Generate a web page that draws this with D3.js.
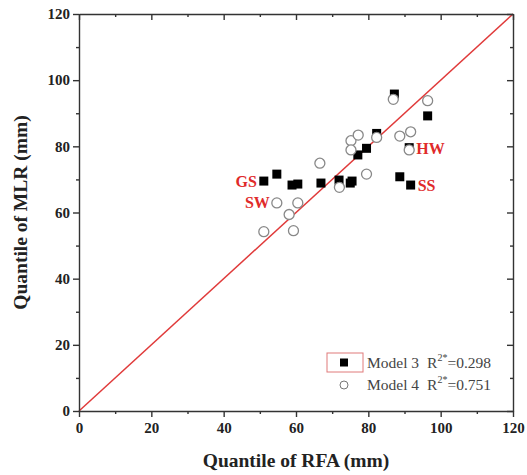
<!DOCTYPE html>
<html><head><meta charset="utf-8">
<script src="https://cdn.jsdelivr.net/npm/d3@7"></script>
<style>body{margin:0;background:#fff}</style>
</head><body><svg id="c" width="527" height="475"></svg>
<script>
const model3X = [51.1,54.7,58.9,60.5,66.9,71.9,75.0,75.5,77.1,79.5,82.3,87.2,96.4,88.7,91.7,91.3];
const model3Y = [69.5,71.6,68.3,68.6,68.9,69.8,68.9,69.5,77.4,79.4,83.9,95.8,89.2,70.8,68.3,79.6];
const model4X = [54.7,60.5,58.1,51.1,59.3,66.6,72.0,79.5,75.2,77.2,75.2,82.3,86.9,96.4,88.7,91.7,91.3];
const model4Y = [62.9,62.9,59.4,54.2,54.5,74.9,67.6,71.6,81.7,83.4,78.9,82.7,94.2,93.8,83.1,84.4,78.9];
const ticks = [0,20,40,60,80,100,120];
const minorTicks = [10,30,50,70,90,110];
const siteLabels = [
  {text:"GS", x:51.1, y:69.5, side:"left"},
  {text:"SW", x:54.7, y:62.9, side:"left"},
  {text:"HW", x:91.3, y:79.3, side:"right"},
  {text:"SS", x:91.7, y:68.3, side:"right"}
];
const legendItems = [
  {name:"Model 3", r2:"0.298", type:"square"},
  {name:"Model 4", r2:"0.751", type:"circle"}
];

const svg = d3.select("#c");
const x = d3.scaleLinear().domain([0,120]).range([79,513]);
const y = d3.scaleLinear().domain([0,120]).range([411,14]);
const axisColor = "#333";
const serif = "'Liberation Serif','Times New Roman',serif";

// 1:1 line
svg.append("line").attr("x1",x(0)).attr("y1",y(0)).attr("x2",x(120)).attr("y2",y(120))
  .attr("stroke","#e03a3a").attr("stroke-width",1.5);

function styleAxis(g){
  g.selectAll("path,line").attr("stroke",axisColor).attr("stroke-width",1.4);
  g.selectAll("text").attr("font-family",serif).attr("font-weight","bold").attr("font-size","15px").attr("fill","#222");
}
// bottom
const gb = svg.append("g").attr("transform",`translate(0,${y(0)})`)
  .call(d3.axisBottom(x).tickValues(ticks).tickSize(6).tickSizeOuter(0).tickPadding(5).tickFormat(d3.format("d")));
styleAxis(gb);
const gbm = svg.append("g").attr("transform",`translate(0,${y(0)})`)
  .call(d3.axisBottom(x).tickValues(minorTicks).tickSize(3).tickSizeOuter(0).tickFormat(""));
styleAxis(gbm); gbm.select("path").remove();
// left
const gl = svg.append("g").attr("transform",`translate(${x(0)},0)`)
  .call(d3.axisLeft(y).tickValues(ticks).tickSize(6).tickSizeOuter(0).tickPadding(3).tickFormat(d3.format("d")));
styleAxis(gl);
const glm = svg.append("g").attr("transform",`translate(${x(0)},0)`)
  .call(d3.axisLeft(y).tickValues(minorTicks).tickSize(3).tickSizeOuter(0).tickFormat(""));
styleAxis(glm); glm.select("path").remove();
// top (inward)
const gt = svg.append("g").attr("transform",`translate(0,${y(120)})`)
  .call(d3.axisTop(x).tickValues(ticks).tickSize(-6).tickSizeOuter(0).tickFormat(""));
styleAxis(gt);
const gtm = svg.append("g").attr("transform",`translate(0,${y(120)})`)
  .call(d3.axisTop(x).tickValues(minorTicks).tickSize(-3).tickSizeOuter(0).tickFormat(""));
styleAxis(gtm); gtm.select("path").remove();
// right (inward)
const gr = svg.append("g").attr("transform",`translate(${x(120)},0)`)
  .call(d3.axisRight(y).tickValues(ticks).tickSize(-6).tickSizeOuter(0).tickFormat(""));
styleAxis(gr);
const grm = svg.append("g").attr("transform",`translate(${x(120)},0)`)
  .call(d3.axisRight(y).tickValues(minorTicks).tickSize(-3).tickSizeOuter(0).tickFormat(""));
styleAxis(grm); grm.select("path").remove();

// axis titles
svg.append("text").attr("x",(x(0)+x(120))/2).attr("y",467).attr("text-anchor","middle")
  .attr("font-family",serif).attr("font-weight","bold").attr("font-size","19.5px").attr("fill","#222")
  .text("Quantile of RFA (mm)");
svg.append("text").attr("transform",`translate(27,${(y(0)+y(120))/2}) rotate(-90)`).attr("text-anchor","middle")
  .attr("font-family",serif).attr("font-weight","bold").attr("font-size","19.5px").attr("fill","#222")
  .text("Quantile of MLR (mm)");

// model 3 squares
const m3 = model3X.map((v,i)=>({x:v,y:model3Y[i]}));
const s = 9;
svg.append("g").selectAll("rect").data(m3).join("rect")
  .attr("x",d=>x(d.x)-s/2).attr("y",d=>y(d.y)-s/2).attr("width",s).attr("height",s)
  .attr("fill","#000");
// model 4 circles (drawn on top, white fill)
const m4 = model4X.map((v,i)=>({x:v,y:model4Y[i]}));
svg.append("g").selectAll("circle").data(m4).join("circle")
  .attr("cx",d=>x(d.x)).attr("cy",d=>y(d.y)).attr("r",5)
  .attr("fill","#fff").attr("stroke","#888").attr("stroke-width",1.3);

// site labels
svg.append("g").selectAll("text").data(siteLabels).join("text")
  .attr("x",d=>d.side==="left"? x(d.x)-7 : x(d.x)+7)
  .attr("y",d=>y(d.y)+5.5)
  .attr("text-anchor",d=>d.side==="left"?"end":"start")
  .attr("font-family",serif).attr("font-weight","bold").attr("font-size","16px").attr("fill","#e02a2a")
  .text(d=>d.text);

// legend
svg.append("rect").attr("x",327).attr("y",353).attr("width",36).attr("height",19)
  .attr("fill","none").attr("stroke","#e07a7a").attr("stroke-width",1);
const lg = svg.append("g").selectAll("g").data(legendItems).join("g")
  .attr("transform",(d,i)=>`translate(344,${362.5+i*22.5})`);
lg.filter(d=>d.type==="square").append("rect").attr("x",-4).attr("y",-4).attr("width",8).attr("height",8).attr("fill","#000");
lg.filter(d=>d.type==="circle").append("circle").attr("r",4).attr("fill","none").attr("stroke","#777").attr("stroke-width",1);
const lt = lg.append("text").attr("x",23).attr("y",5)
  .attr("font-family",serif).attr("font-size","15.5px").attr("fill","#444")
  .style("white-space","pre");
lt.append("tspan").text(d=>d.name);
lt.append("tspan").attr("dx",8).text("R");
lt.append("tspan").attr("dy",-7).attr("font-size","10px").text("2*");
lt.append("tspan").attr("dy",7).text(d=>"=" + d.r2);
</script></body></html>
